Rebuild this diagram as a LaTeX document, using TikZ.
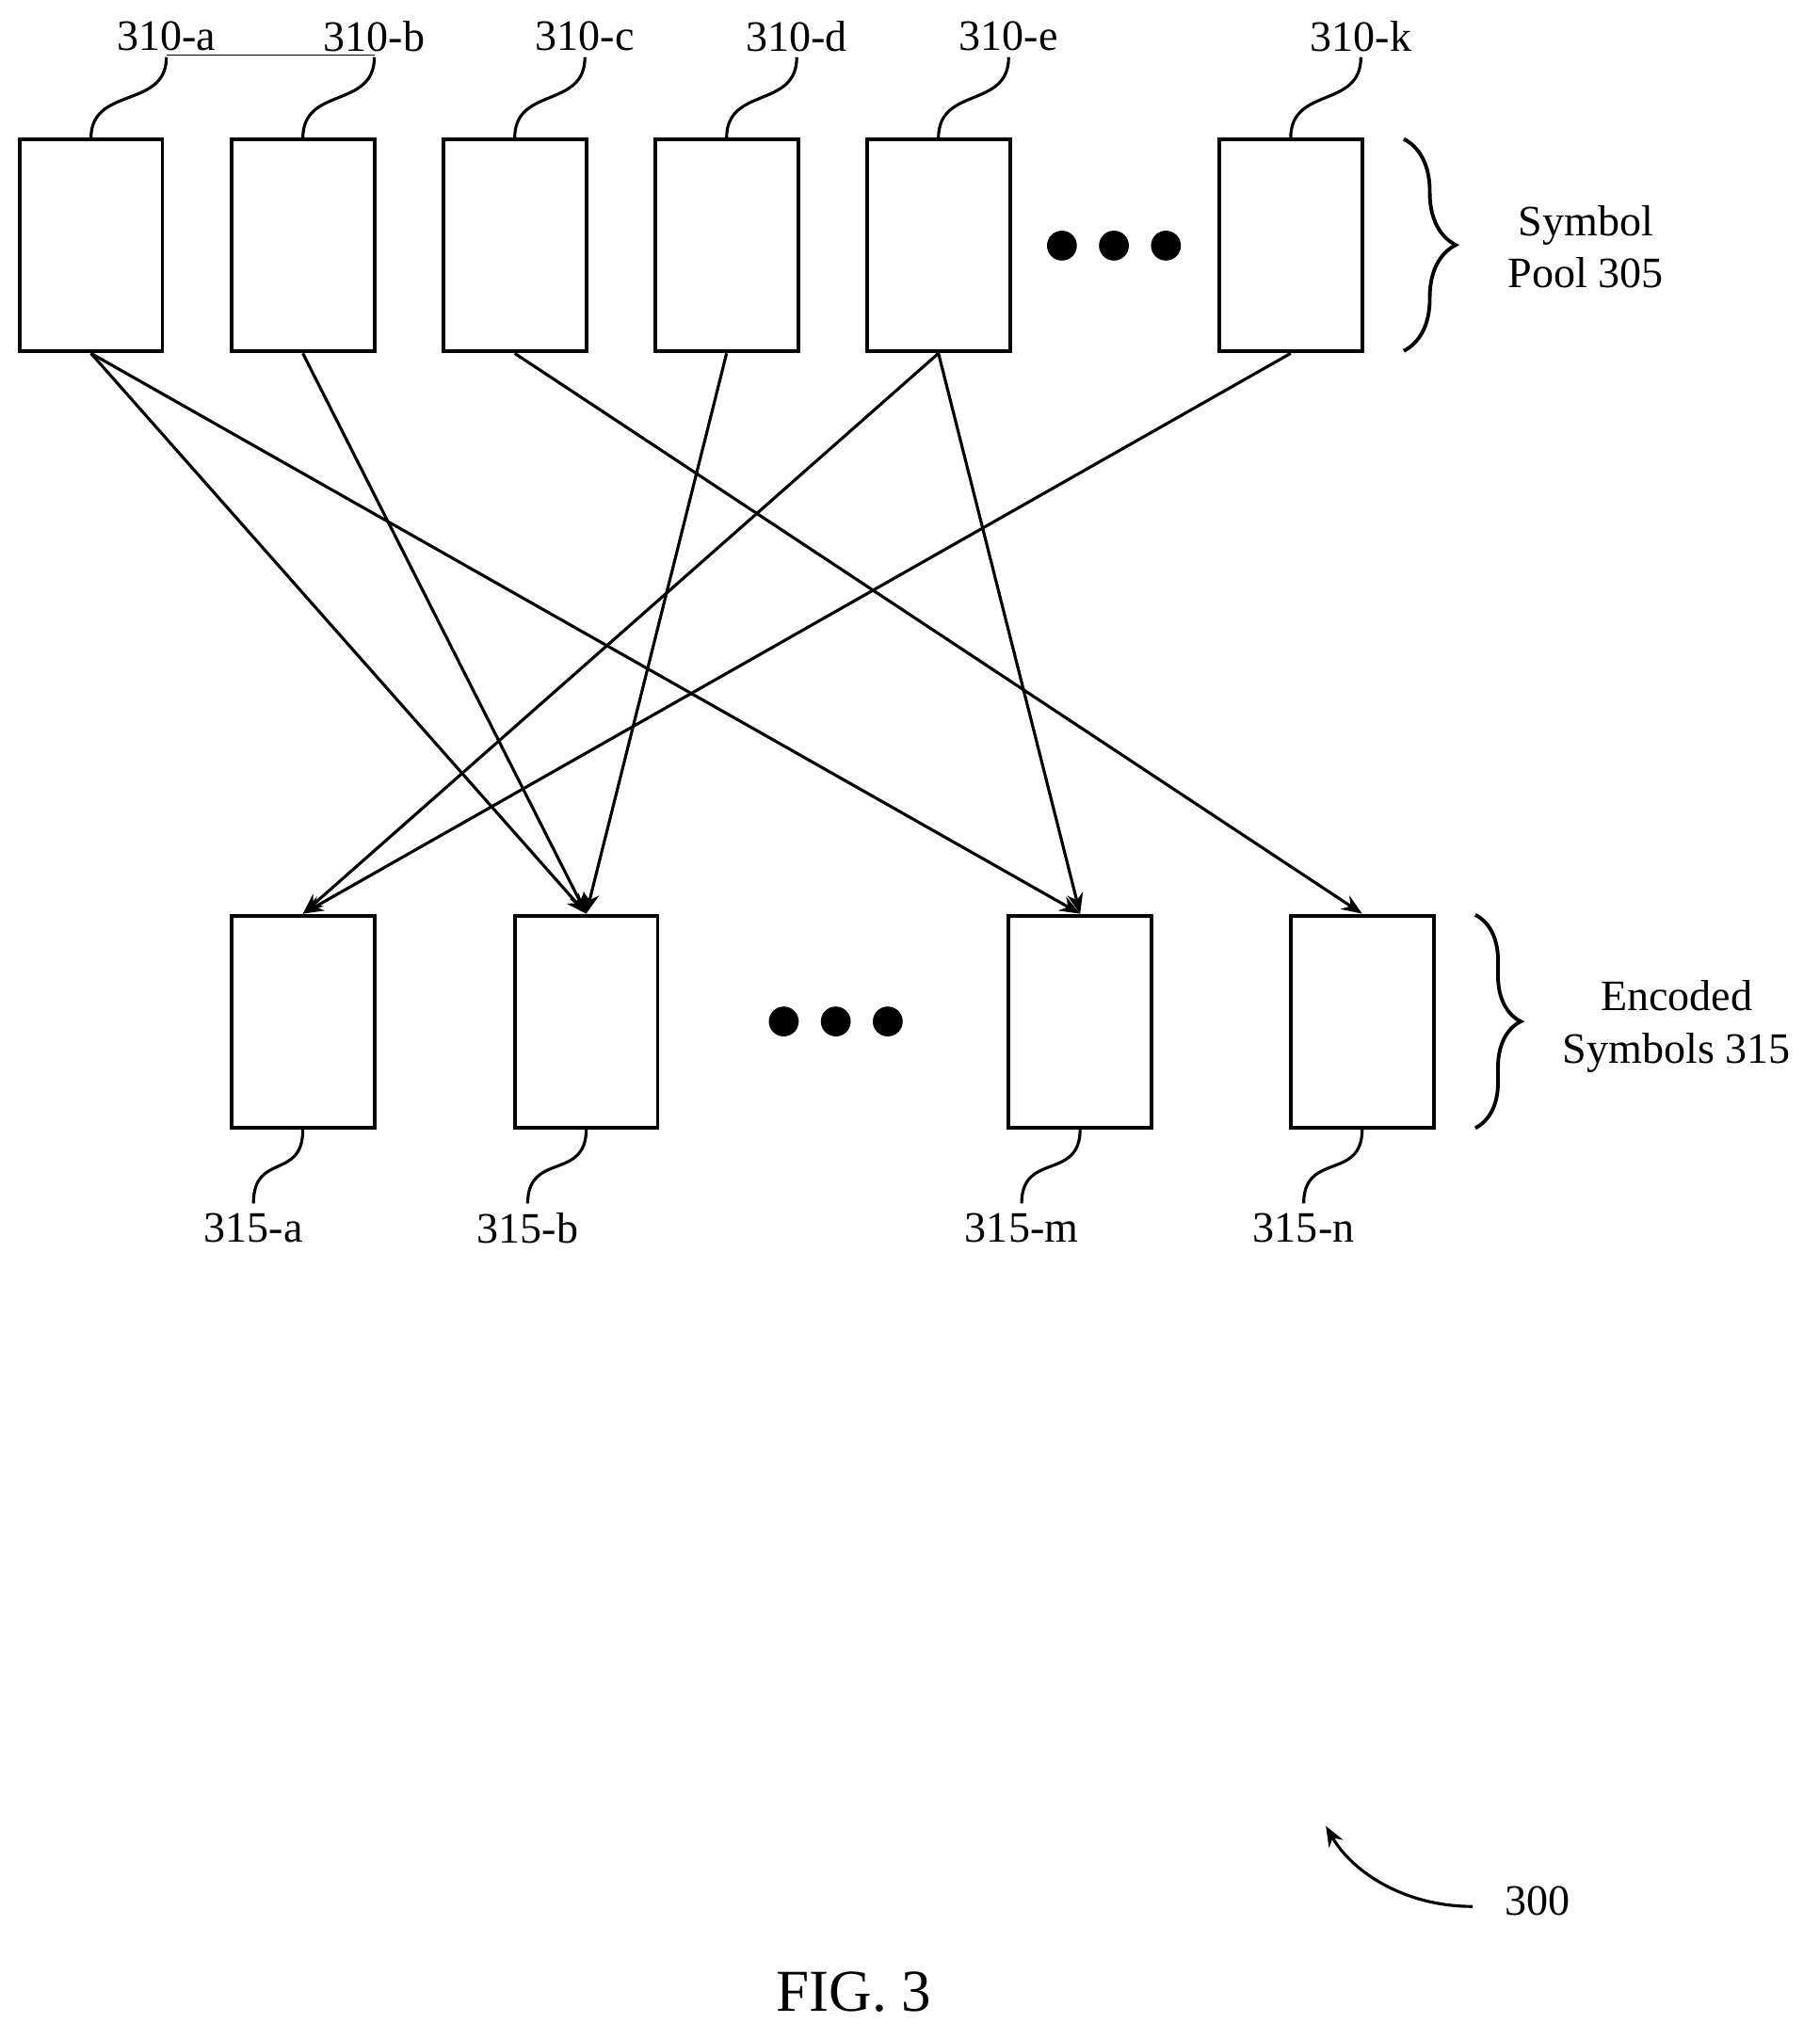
\documentclass[tikz,border=0pt]{standalone}
\usepackage{fontspec}
\setmainfont{Liberation Serif}
\usetikzlibrary{decorations.pathreplacing,arrows.meta,calc}
\tikzset{
  sym/.style={draw,line width=1.6pt,minimum width=2.2cm,minimum height=3.26cm,inner sep=0pt},
  lbl/.style={font=\fontsize{19}{23}\selectfont,inner sep=1pt},
  dot/.style={circle,fill=black,minimum size=0.46cm,inner sep=0pt},
  link/.style={line width=1.3pt,-{Stealth[length=9pt,width=7pt]}},
  lead/.style={line width=1.3pt}
}
\newcommand{\upleader}[2]{\draw[lead] (#1) .. controls +(0,-40) and +(0,40) .. (#2);}
\begin{document}
\begin{tikzpicture}[x=0.02cm,y=-0.02cm]
\useasboundingbox (0,0) rectangle (1400,1569);
% symbol pool
\node[sym] (a) at (70,189) {};
\node[sym] (b) at (233,189) {};
\node[sym] (c) at (396,189) {};
\node[sym] (d) at (559,189) {};
\node[sym] (e) at (722,189) {};
\node[sym] (k) at (993,189) {};
\foreach \x [count=\i] in {817,857,897} \node[dot] (td\i) at (\x,189) {};
% encoded symbols
\node[sym] (sa) at (233,786) {};
\node[sym] (sb) at (451,786) {};
\node[sym] (sm) at (831,786) {};
\node[sym] (sn) at (1048,786) {};
\foreach \x [count=\i] in {603,643,683} \node[dot] (bd\i) at (\x,786) {};
% labels
\node[lbl] (la) at (128,28) {310-a};
\node[lbl] (lb) at (288,28) {310-b};
\node[lbl] (lc) at (450,28) {310-c};
\node[lbl] (ld) at (613,28) {310-d};
\node[lbl] (le) at (776,28) {310-e};
\node[lbl] (lk) at (1047,28) {310-k};
\coordinate (ja) at (128,44); \coordinate (jb) at (288,44); \coordinate (jc) at (450,44);
\coordinate (jd) at (613,44); \coordinate (je) at (776,44); \coordinate (jk) at (1047,44);
\upleader{a.north}{ja} \upleader{b.north}{jb} \upleader{c.north}{jc}
\upleader{d.north}{jd} \upleader{e.north}{je} \upleader{k.north}{jk}
\draw[thin] ($(ja)+(0,-2)$) -- ($(jb)+(0,-2)$);
\node[lbl] (ma) at (195,945) {315-a};
\node[lbl] (mb) at (406,945) {315-b};
\node[lbl] (mm) at (786,945) {315-m};
\node[lbl] (mn) at (1003,945) {315-n};
\coordinate (na) at (195,926); \coordinate (nb) at (406,926);
\coordinate (nm) at (786,926); \coordinate (nn) at (1003,926);
\upleader{na}{sa.south} \upleader{nb}{sb.south} \upleader{nm}{sm.south} \upleader{nn}{sn.south}
% connections
\draw[link] (a.south) -- (sb.north);
\draw[link] (a.south) -- (sm.north);
\draw[link] (b.south) -- (sb.north);
\draw[link] (c.south) -- (sn.north);
\draw[link] (d.south) -- (sb.north);
\draw[link] (e.south) -- (sa.north);
\draw[link] (e.south) -- (sm.north);
\draw[link] (k.south) -- (sa.north);
% braces
\draw[line width=1.6pt,decorate,decoration={brace,amplitude=0.8cm}] (1080,107) -- (1080,270);
\node[lbl,align=center] (pool) at (1220,190) {Symbol\\Pool 305};
\draw[line width=1.6pt,decorate,decoration={brace,amplitude=0.7cm}] (1135,704) -- (1135,868);
\node[lbl,align=center] (enc) at (1290,790) {Encoded\\Symbols 315};
% figure number
\node[lbl] (ref) at (1183,1463) {300};
\coordinate (refend) at (1133,1467);
\coordinate (reftip) at (1020,1405);
\draw[line width=1.3pt,-{Stealth[length=9pt,width=7pt]}] (refend) .. controls (1080,1467) and (1040,1440) .. (reftip);
\node[font=\fontsize{26}{30}\selectfont] (fig) at (657,1533) {FIG. 3};
\end{tikzpicture}
\end{document}
